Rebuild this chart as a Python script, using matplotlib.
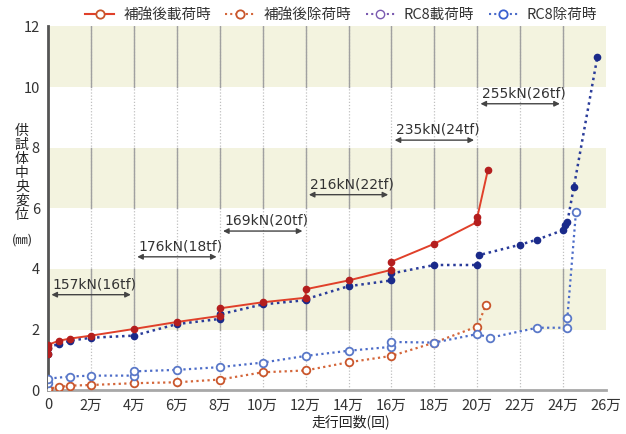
import matplotlib
matplotlib.use("Agg")
import matplotlib.pyplot as plt
from matplotlib.lines import Line2D

plt.rcParams['font.family'] = ['Noto Sans CJK JP', 'DejaVu Sans']

# 走行回数 (万回) と変位 (mm)
load_x = [0, 0, 0, 0.5, 1, 2, 4, 6, 8, 8, 10, 12, 12, 14, 16, 16, 18, 20, 20, 20.5]
load_y = [1.2, 1.4, 1.5, 1.63, 1.7, 1.8, 2.02, 2.25, 2.45, 2.7, 2.9, 3.05, 3.33, 3.62, 3.97, 4.24, 4.83, 5.55, 5.7, 7.28]

unload_x = [0, 0, 0.5, 1, 2, 4, 6, 8, 10, 12, 14, 16, 18, 20, 20.4]
unload_y = [0.0, 0.05, 0.1, 0.15, 0.17, 0.23, 0.26, 0.35, 0.59, 0.65, 0.92, 1.13, 1.57, 2.1, 2.8]

rc8_load_x = [0, 0, 0.5, 1, 2, 4, 6, 8, 8, 10, 12, 12, 14, 16, 16, 18, 20, 20.1, 22, 22.8, 24, 24.1, 24.2, 24.5, 25.6]
rc8_load_y = [1.2, 1.4, 1.53, 1.63, 1.73, 1.8, 2.18, 2.35, 2.5, 2.83, 2.97, 3.0, 3.43, 3.62, 3.85, 4.13, 4.13, 4.46, 4.8, 4.97, 5.28, 5.44, 5.55, 6.69, 11.0]

rc8_unload_x = [0, 0, 1, 2, 4, 4, 6, 8, 10, 12, 14, 16, 16, 18, 20, 20.6, 22.8, 24.2, 24.2, 24.6]
rc8_unload_y = [0.22, 0.38, 0.45, 0.48, 0.48, 0.62, 0.67, 0.76, 0.91, 1.13, 1.3, 1.43, 1.59, 1.57, 1.85, 1.73, 2.06, 2.06, 2.38, 5.87]

xticks = [0, 2, 4, 6, 8, 10, 12, 14, 16, 18, 20, 22, 24, 26]
xticklabels = ['0'] + [f'{v}万' for v in xticks[1:]]
yticks = [0, 2, 4, 6, 8, 10, 12]

# 荷重区間 (開始, 終了, 高さ, ラベル)
spans = [
    (0, 4, 3.15, '157kN(16tf)'),
    (4, 8, 4.4, '176kN(18tf)'),
    (8, 12, 5.25, '169kN(20tf)'),
    (12, 16, 6.45, '216kN(22tf)'),
    (16, 20, 8.25, '235kN(24tf)'),
    (20, 24, 9.45, '255kN(26tf)'),
]
bands = [(2, 4), (6, 8), (10, 12)]

fig = plt.figure(figsize=(6.26, 4.34), dpi=100)
ax = fig.add_axes([0.077, 0.101, 0.891, 0.838])
ax.set_xlim(0, 26)
ax.set_ylim(0, 12)

for lo, hi in bands:
    ax.axhspan(lo, hi, color='#f3f3df', zorder=0, lw=0)
for xv in xticks[1:-1]:
    ax.axvline(xv, color='#c0c0c0', lw=0.9, ls=(0, (1, 1.5)), zorder=1)
    for lo, hi in bands:
        ax.plot([xv, xv], [lo, hi], color='#a0a0a0', lw=1.0, zorder=1)

ax.plot(unload_x, unload_y, ls=(0, (1, 1.5)), color='#d4663a', lw=1.6,
        marker='o', ms=5.5, mfc='white', mec='#c9562c', mew=1.3, zorder=3)
ax.plot(rc8_unload_x, rc8_unload_y, ls=(0, (1, 1.5)), color='#4c6cc8', lw=1.6,
        marker='o', ms=5.5, mfc='white', mec='#5a78c8', mew=1.3, zorder=3)
ax.plot(rc8_load_x, rc8_load_y, ls=(0, (1, 1.5)), color='#2a3c9a', lw=1.8,
        marker='o', ms=4.5, mfc='#1a2a8a', mec='#1a2a8a', zorder=4)
ax.plot(load_x, load_y, ls='-', color='#e0402a', lw=1.4,
        marker='o', ms=4.5, mfc='#b41e1e', mec='#b41e1e', zorder=5)

for x0, x1, yv, label in spans:
    ax.annotate('', xy=(x0 + 0.15, yv), xytext=(x1 - 0.15, yv),
                arrowprops=dict(arrowstyle='<|-|>', color='#444444', lw=1.0,
                                mutation_scale=8, shrinkA=0, shrinkB=0), zorder=6)
    ax.text(x0 + 0.2, yv + 0.12, label, fontsize=10, color='#333333',
            ha='left', va='bottom', family='DejaVu Sans', zorder=6)

ax.set_xticks(xticks)
ax.set_xticklabels(xticklabels)
ax.set_yticks(yticks)
ax.tick_params(length=0, labelsize=10.5, colors='#333333', pad=6)
for s in ['top', 'right']:
    ax.spines[s].set_visible(False)
ax.spines['left'].set_color('#555555')
ax.spines['left'].set_linewidth(2.0)
ax.spines['bottom'].set_color('#a8a8a8')
ax.spines['bottom'].set_linewidth(2.0)

fig.text(0.035, 0.715, '\n'.join('供試体中央変位'), ha='center', va='top',
         fontsize=10, linespacing=1.0, color='#222222')
fig.text(0.035, 0.448, '(㎜)', ha='center', va='center', fontsize=9, color='#222222')
fig.text(0.56, 0.028, '走行回数(回)', ha='center', va='center', fontsize=10, color='#222222')

handles = [
    Line2D([], [], color='#e0402a', ls='-', marker='o', mfc='white', mec='#c9562c', ms=6, mew=1.3),
    Line2D([], [], color='#d4663a', ls=(0, (1, 1.5)), marker='o', mfc='white', mec='#c9562c', ms=6, mew=1.3),
    Line2D([], [], color='#7a5ab0', ls=(0, (1, 1.5)), marker='o', mfc='white', mec='#7a5ab0', ms=6, mew=1.0),
    Line2D([], [], color='#4c6cc8', ls=(0, (1, 1.5)), marker='o', mfc='white', mec='#3a60d0', ms=6, mew=1.3),
]
labels = ['補強後載荷時', '補強後除荷時', 'RC8載荷時', 'RC8除荷時']
fig.legend(handles, labels, loc='upper center', bbox_to_anchor=(0.545, 1.012), ncol=4,
           frameon=False, fontsize=10.5, handlelength=2.0, handletextpad=0.6, columnspacing=1.0,
           labelcolor='#333333')

fig.savefig('out.png', dpi=100)
